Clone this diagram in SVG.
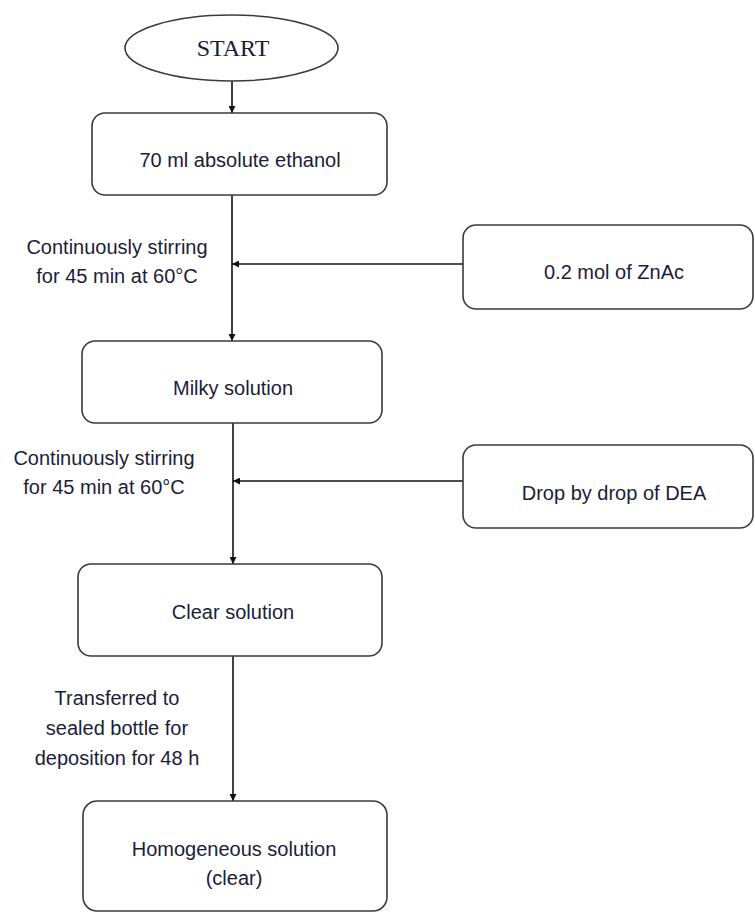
<svg xmlns="http://www.w3.org/2000/svg" width="755" height="913" viewBox="0 0 755 913">
<style>
.box{fill:#fff;stroke:#3a3a3a;stroke-width:1.6}
.t{font-family:"Liberation Sans",Arial,sans-serif;font-size:20px;fill:#1c1c38;text-anchor:middle}
.s{font-family:"Liberation Serif","Times New Roman",serif;font-size:24px;fill:#1c1c38;text-anchor:middle}
.c{fill:none;stroke:#111;stroke-width:1.6}
</style>
<defs>
<marker id="ah" viewBox="0 0 10 10" refX="10" refY="5" markerWidth="7" markerHeight="7" markerUnits="userSpaceOnUse" orient="auto">
<path d="M0,0 L10,5 L0,10 z" fill="#111"/>
</marker>
</defs>
<rect width="755" height="913" fill="#fff"/>
<g id="connectors">
<line class="c" x1="232" y1="81" x2="232" y2="113" marker-end="url(#ah)"/>
<line class="c" x1="232" y1="195" x2="232" y2="341" marker-end="url(#ah)"/>
<line class="c" x1="463" y1="264" x2="232" y2="264" marker-end="url(#ah)"/>
<line class="c" x1="233" y1="423" x2="233" y2="564" marker-end="url(#ah)"/>
<line class="c" x1="463" y1="481" x2="233" y2="481" marker-end="url(#ah)"/>
<line class="c" x1="233" y1="656" x2="233" y2="801" marker-end="url(#ah)"/>
</g>
<g id="start">
<ellipse class="box" cx="231.5" cy="48" rx="106.5" ry="33"/>
<text class="s" x="233" y="56">START</text>
</g>
<g id="ethanol">
<rect class="box" x="92" y="113" width="295" height="82" rx="13"/>
<text class="t" x="240" y="167">70 ml absolute ethanol</text>
</g>
<g id="label1">
<text class="t" x="117" y="254">Continuously stirring</text>
<text class="t" x="117" y="283">for 45 min at 60°C</text>
</g>
<g id="znac">
<rect class="box" x="463" y="225" width="290" height="84" rx="13"/>
<text class="t" x="614" y="279">0.2 mol of ZnAc</text>
</g>
<g id="milky">
<rect class="box" x="82" y="341" width="300" height="82" rx="13"/>
<text class="t" x="233" y="395">Milky solution</text>
</g>
<g id="label2">
<text class="t" x="104" y="465">Continuously stirring</text>
<text class="t" x="104" y="494">for 45 min at 60°C</text>
</g>
<g id="dea">
<rect class="box" x="463" y="445" width="290" height="83" rx="13"/>
<text class="t" x="614" y="500">Drop by drop of DEA</text>
</g>
<g id="clear">
<rect class="box" x="78" y="564" width="304" height="92" rx="13"/>
<text class="t" x="233" y="619">Clear solution</text>
</g>
<g id="label3">
<text class="t" x="117" y="705">Transferred to</text>
<text class="t" x="117" y="735">sealed bottle for</text>
<text class="t" x="117" y="765">deposition for 48 h</text>
</g>
<g id="homogeneous">
<rect class="box" x="83" y="801" width="304" height="110" rx="14"/>
<text class="t" x="234" y="856">Homogeneous solution</text>
<text class="t" x="234" y="885">(clear)</text>
</g>
</svg>
